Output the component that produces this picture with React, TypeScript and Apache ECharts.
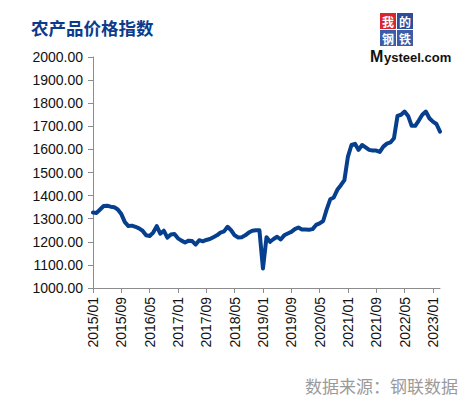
import React, { useEffect, useRef } from "react";
import * as echarts from "echarts";

const startYear = 2015;
const monthCount = 99;
const categories: string[] = [];
for (let i = 0; i < monthCount; i++) {
  const y = startYear + Math.floor(i / 12);
  const m = (i % 12) + 1;
  categories.push(`${y}/${m < 10 ? "0" + m : m}`);
}

const indexValues = [
  1327, 1325, 1340, 1355, 1356, 1352, 1350, 1340, 1320, 1285, 1268, 1270,
  1265, 1258, 1248, 1228, 1225, 1240, 1268, 1235, 1248, 1218, 1232, 1234,
  1215, 1205, 1197, 1205, 1203, 1188, 1207, 1202, 1208, 1212, 1220, 1228,
  1240, 1245, 1265, 1250, 1228, 1219, 1220, 1228, 1240, 1248, 1250, 1250,
  1084, 1220, 1200, 1212, 1222, 1210, 1228, 1236, 1243, 1255, 1262, 1253,
  1253, 1252, 1255, 1273, 1280, 1290, 1340, 1384, 1392, 1425, 1445, 1467,
  1569, 1619, 1624, 1598, 1619, 1609, 1598, 1595, 1595, 1589, 1612, 1625,
  1630, 1648, 1745, 1750, 1764, 1745, 1702, 1702, 1725, 1750, 1764, 1735,
  1720, 1710, 1677,
];

const yMin = 1000;
const yMax = 2000;
const yStep = 100;

const logoChars = ["我", "的", "钢", "铁"];
const logoFills = ["#d8262c", "#2e4c9b", "#3c5ca8", "#3c5ca8"];

export default function App() {
  const ref = useRef<HTMLDivElement>(null);
  useEffect(() => {
    if (!ref.current) return;
    const chart = echarts.init(ref.current, undefined, { renderer: "svg" });
    const logoChildren: any[] = [];
    const cell = 16;
    const step = 17;
    logoChars.forEach((c, k) => {
      const cx = (k % 2) * step;
      const cy = Math.floor(k / 2) * step;
      logoChildren.push({ type: "rect", shape: { x: cx, y: cy, width: cell, height: cell }, style: { fill: logoFills[k] } });
    });
    logoChars.forEach((c, k) => {
      const cx = (k % 2) * step;
      const cy = Math.floor(k / 2) * step;
      logoChildren.push({
        type: "text",
        x: cx + cell / 2,
        y: cy + cell / 2,
        style: {
          text: c,
          fill: "#fff",
          fontSize: 12,
          lineHeight: 12,
          fontWeight: "bold",
          align: "center",
          verticalAlign: "middle",
          fontFamily: "Noto Sans CJK SC",
        },
      });
    });
    chart.setOption({
      animation: false,
      grid: { left: 93, right: 25, top: 57, bottom: 109, containLabel: false },
      xAxis: {
        type: "category",
        boundaryGap: false,
        data: categories,
        axisLine: { lineStyle: { color: "#8c8c8c", width: 1 } },
        axisTick: { show: true, interval: 7, length: 5, lineStyle: { color: "#8c8c8c" } },
        axisLabel: {
          interval: 7,
          rotate: 90,
          fontSize: 14,
          color: "#111",
          fontFamily: "Liberation Sans, Arial, sans-serif",
          margin: 9,
        },
        splitLine: { show: false },
      },
      yAxis: {
        type: "value",
        min: yMin,
        max: yMax,
        interval: yStep,
        axisLine: { show: true, lineStyle: { color: "#8c8c8c", width: 1 } },
        axisTick: { show: true, length: 5, lineStyle: { color: "#8c8c8c" } },
        axisLabel: {
          fontSize: 14,
          color: "#111",
          fontFamily: "Liberation Sans, Arial, sans-serif",
          margin: 10,
          formatter: (v: number) => v.toFixed(2),
        },
        splitLine: { show: false },
      },
      series: [
        {
          type: "line",
          data: indexValues,
          showSymbol: false,
          symbol: "none",
          lineStyle: { color: "#063f8d", width: 4, join: "round", cap: "round" },
        },
      ],
      graphic: [
        {
          type: "text",
          left: 31,
          top: 19,
          style: {
            text: "农产品价格指数",
            fontSize: 17.5,
            fontWeight: "bold",
            fill: "#0b3b8c",
            fontFamily: "Noto Sans CJK SC, sans-serif",
          },
        },
        {
          type: "group",
          left: 380,
          top: 13,
          children: logoChildren,
        },
        {
          type: "text",
          left: 370,
          top: 48,
          style: {
            text: "M",
            fontSize: 16,
            fontWeight: "bold",
            fill: "#111",
            fontFamily: "Liberation Sans, Arial, sans-serif",
          },
        },
        {
          type: "text",
          left: 384,
          top: 51,
          style: {
            text: "ysteel.com",
            fontSize: 13,
            fontWeight: "bold",
            fill: "#111",
            fontFamily: "Liberation Sans, Arial, sans-serif",
          },
        },
        {
          type: "text",
          right: 7,
          top: 377,
          style: {
            text: "数据来源：钢联数据",
            fontSize: 17,
            fill: "#9a9a9a",
            fontFamily: "Noto Sans CJK SC, sans-serif",
          },
        },
      ],
    });
    return () => chart.dispose();
  }, []);
  return (
    <div
      ref={ref}
      style={{ position: "fixed", left: 0, top: 0, width: 465, height: 397, background: "#fff" }}
    />
  );
}
